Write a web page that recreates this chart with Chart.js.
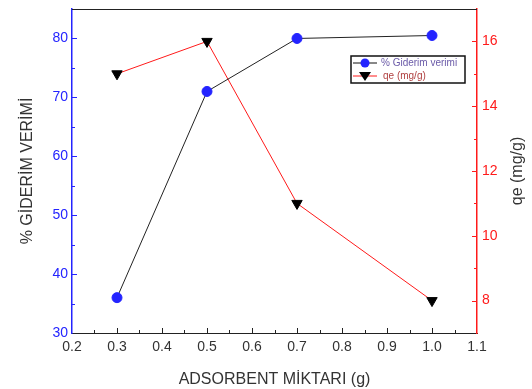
<!DOCTYPE html>
<html>
<head>
<meta charset="utf-8">
<script src="https://cdn.jsdelivr.net/npm/chart.js@4/dist/chart.umd.min.js"></script>
<style>
    html, body { margin: 0; padding: 0; background: #fff; }
    #wrap { width: 532px; height: 389px; }
</style>
</head>
<body>
<div id="wrap"><canvas id="adsChart"></canvas></div>
<script>
// adsorbent dose (g)
const doses = [0.3, 0.5, 0.7, 1.0];
// removal efficiency (%)
const removal = [36, 71, 80, 80.5];
// adsorption capacity qe (mg/g)
const qe = [15, 16, 11, 8];

const xTicks = [0.2, 0.3, 0.4, 0.5, 0.6, 0.7, 0.8, 0.9, 1.0, 1.1];
const leftTicks = [30, 40, 50, 60, 70, 80];
const rightTicks = [8, 10, 12, 14, 16];

const BLUE = "#2424ff";
const RED = "#ff1a1a";
const TEXT = "#333";
const FONT = "'Liberation Sans', Arial, sans-serif";

// Origin-style inward ticks, top frame line, right title and the boxed legend
const framePlugin = {
    id: "frame",
    afterDraw(chart) {
        const {ctx, chartArea: a, scales} = chart;
        const x = scales.x, y = scales.y, y2 = scales.y2;
        ctx.save();
        ctx.lineWidth = 1;

        // top frame
        ctx.strokeStyle = "#222";
        ctx.beginPath();
        ctx.moveTo(a.left, a.top + 0.5);
        ctx.lineTo(a.right, a.top + 0.5);
        ctx.stroke();

        // bottom ticks (major every 0.1, minor every 0.05)
        ctx.strokeStyle = "#222";
        for (let v = 0.25; v < 1.1; v += 0.05) {
            const px = Math.round(x.getPixelForValue(v)) + 0.5;
            const major = Math.abs(Math.round(v * 10) - v * 10) < 1e-6;
            ctx.beginPath();
            ctx.moveTo(px, a.bottom);
            ctx.lineTo(px, a.bottom - (major ? 5 : 3));
            ctx.stroke();
        }

        // left ticks
        ctx.strokeStyle = BLUE;
        for (let v = 35; v < 85; v += 5) {
            const py = Math.round(y.getPixelForValue(v)) + 0.5;
            const major = v % 10 === 0;
            ctx.beginPath();
            ctx.moveTo(a.left, py);
            ctx.lineTo(a.left + (major ? 5 : 3), py);
            ctx.stroke();
        }

        // right ticks
        ctx.strokeStyle = RED;
        for (let v = 8; v < 17; v += 1) {
            const py = Math.round(y2.getPixelForValue(v)) + 0.5;
            const major = v % 2 === 0;
            ctx.beginPath();
            ctx.moveTo(a.right, py);
            ctx.lineTo(a.right - (major ? 5 : 3), py);
            ctx.stroke();
        }

        // right axis title, reading bottom to top
        ctx.save();
        ctx.translate(a.right + 41, (a.top + a.bottom) / 2);
        ctx.rotate(-Math.PI / 2);
        ctx.fillStyle = TEXT;
        ctx.font = "16px " + FONT;
        ctx.textAlign = "center";
        ctx.textBaseline = "middle";
        ctx.fillText("qe (mg/g)", 0, 0);
        ctx.restore();

        // legend box
        const bx = a.left + 279, by = a.top + 47, bw = 114, bh = 27;
        ctx.strokeStyle = "#111";
        ctx.lineWidth = 1.5;
        ctx.strokeRect(bx, by, bw, bh);

        ctx.lineWidth = 1;
        ctx.font = "10px " + FONT;
        ctx.textBaseline = "middle";

        const r1 = by + 7;
        ctx.strokeStyle = "#111";
        ctx.beginPath();
        ctx.moveTo(bx + 2, r1);
        ctx.lineTo(bx + 26, r1);
        ctx.stroke();
        ctx.fillStyle = BLUE;
        ctx.beginPath();
        ctx.arc(bx + 14, r1, 4.5, 0, Math.PI * 2);
        ctx.fill();
        ctx.fillStyle = "#6a5aa8";
        ctx.fillText("% Giderim verimi", bx + 30, r1);

        const r2 = by + 20;
        ctx.strokeStyle = RED;
        ctx.beginPath();
        ctx.moveTo(bx + 2, r2);
        ctx.lineTo(bx + 26, r2);
        ctx.stroke();
        ctx.fillStyle = "#000";
        ctx.beginPath();
        ctx.moveTo(bx + 8, r2 - 4);
        ctx.lineTo(bx + 20, r2 - 4);
        ctx.lineTo(bx + 14, r2 + 5);
        ctx.closePath();
        ctx.fill();
        ctx.fillStyle = "#b04040";
        ctx.fillText("qe (mg/g)", bx + 32, r2);

        ctx.restore();
    }
};

// fixed axis widths, no label overhang padding
const fitY = w => s => { s.width = w; s.paddingTop = 0; s.paddingBottom = 0; };

new Chart(document.getElementById("adsChart"), {
    type: "line",
    data: {
        datasets: [{
            label: "% Giderim verimi",
            data: doses.map((d, i) => ({x: d, y: removal[i]})),
            yAxisID: "y",
            borderColor: "#222",
            borderWidth: 1,
            pointStyle: "circle",
            pointRadius: 5,
            pointBackgroundColor: BLUE,
            pointBorderColor: BLUE,
            tension: 0
        }, {
            label: "qe (mg/g)",
            data: doses.map((d, i) => ({x: d, y: qe[i]})),
            yAxisID: "y2",
            borderColor: RED,
            borderWidth: 1,
            pointStyle: "triangle",
            rotation: 180,
            pointRadius: 6,
            pointBackgroundColor: "#000",
            pointBorderColor: "#000",
            tension: 0
        }]
    },
    options: {
        responsive: true,
        maintainAspectRatio: false,
        animation: false,
        events: [],
        layout: { padding: { top: 9, left: 0, right: 0, bottom: 0 } },
        plugins: {
            legend: { display: false },
            tooltip: { enabled: false }
        },
        scales: {
            x: {
                type: "linear",
                min: 0.2,
                max: 1.1,
                afterBuildTicks: s => { s.ticks = xTicks.map(v => ({value: v})); },
                afterFit: s => { s.height = 56; s.paddingLeft = 0; s.paddingRight = 0; },
                grid: { display: false, drawTicks: false },
                border: { color: "#222", width: 1 },
                ticks: {
                    padding: 6,
                    color: TEXT,
                    font: { family: FONT, size: 14 },
                    callback: v => v.toFixed(1)
                },
                title: {
                    display: true,
                    text: "ADSORBENT MİKTARI (g)",
                    color: TEXT,
                    font: { family: FONT, size: 16 },
                    padding: { top: 5, bottom: 0 }
                }
            },
            y: {
                position: "left",
                min: 30,
                max: 85,
                afterBuildTicks: s => { s.ticks = leftTicks.map(v => ({value: v})); },
                afterFit: fitY(72),
                grid: { display: false, drawTicks: false },
                border: { color: BLUE, width: 1.5 },
                ticks: {
                    padding: 4,
                    color: BLUE,
                    font: { family: FONT, size: 14 }
                },
                title: {
                    display: true,
                    text: "% GİDERİM VERİMİ",
                    color: TEXT,
                    font: { family: FONT, size: 16 },
                    padding: { top: 18, bottom: 0 }
                }
            },
            y2: {
                position: "right",
                min: 7,
                max: 17,
                afterBuildTicks: s => { s.ticks = rightTicks.map(v => ({value: v})); },
                afterFit: fitY(55),
                grid: { display: false, drawTicks: false },
                border: { color: RED, width: 1.5 },
                ticks: {
                    padding: 5,
                    color: RED,
                    font: { family: FONT, size: 14 }
                }
            }
        }
    },
    plugins: [framePlugin]
});
</script>
</body>
</html>
